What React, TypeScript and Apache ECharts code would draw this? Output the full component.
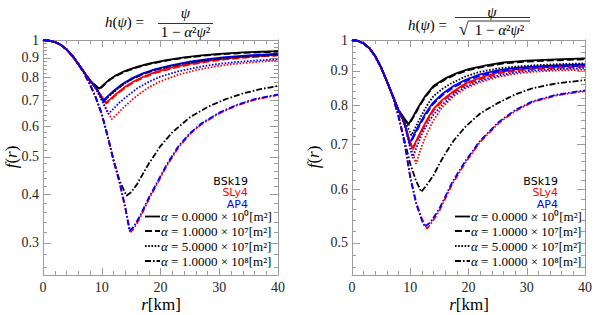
import React, { useEffect, useRef } from 'react';
import * as echarts from 'echarts';

type Pt = [number, number];

// ---------- axis / label data ----------
const xTicks = [0, 10, 20, 30, 40];
const leftYTicks = [0.3, 0.4, 0.5, 0.6, 0.7, 0.8, 0.9, 1];
const rightYTicks = [0.5, 0.6, 0.7, 0.8, 0.9, 1];
const leftYMin = 0.248;
const rightYMin = 0.448;
const eosNames = ['BSk19', 'SLy4', 'AP4'];
const eosColors = ['#000000', '#ff0000', '#0000ff'];
const alphaLabels = [
  'α = 0.0000 × 10⁰[m²]',
  'α = 1.0000 × 10⁷[m²]',
  'α = 5.0000 × 10⁷[m²]',
  'α = 1.0000 × 10⁸[m²]',
];

// ---------- shared interior (r in km, f) ----------
const innerCore: Pt[] = [[0, 1], [1, 0.997], [2, 0.988], [3, 0.972], [4, 0.946], [5, 0.91], [6, 0.868], [7, 0.826], [8, 0.786]];
const innerCoreShort: Pt[] = [[0, 1], [1, 0.997], [2, 0.988], [3, 0.972], [4, 0.946], [5, 0.91], [6, 0.868]];

// ---------- left panel: h = psi / (1 - a^2 psi^2) ----------
const L_BSk19_a0: Pt[] = [[9, 0.762], [9.6, 0.749], [10.5, 0.772], [11.5, 0.795], [12.5, 0.812], [14, 0.833], [16, 0.853], [18, 0.869], [21, 0.888], [24, 0.902], [27, 0.913], [30, 0.921], [34, 0.929], [40, 0.936]];
const L_BSk19_a1: Pt[] = [[9, 0.761], [9.65, 0.746], [10.5, 0.769], [11.5, 0.792], [12.5, 0.809], [14, 0.83], [16, 0.85], [18, 0.866], [21, 0.885], [24, 0.899], [27, 0.91], [30, 0.918], [34, 0.926], [40, 0.933]];
const L_BSk19_a5: Pt[] = [[9, 0.755], [10.3, 0.693], [11, 0.711], [12, 0.734], [13.5, 0.766], [15, 0.791], [17, 0.817], [19, 0.837], [22, 0.859], [25, 0.875], [28, 0.888], [31, 0.898], [35, 0.907], [40, 0.914]];
const L_BSk19_a10: Pt[] = [[7, 0.82], [8, 0.768], [9, 0.71], [10, 0.645], [11, 0.565], [12, 0.49], [13, 0.436], [14.2, 0.397], [15, 0.405], [16, 0.425], [17, 0.452], [18, 0.48], [20, 0.533], [22, 0.578], [25, 0.632], [28, 0.672], [31, 0.703], [34, 0.728], [37, 0.747], [40, 0.761]];

const L_SLy4_a0: Pt[] = [[9, 0.752], [10, 0.715], [10.7, 0.689], [11.5, 0.705], [12.5, 0.727], [14, 0.758], [15.5, 0.783], [17, 0.803], [19, 0.825], [22, 0.85], [25, 0.868], [28, 0.883], [31, 0.895], [35, 0.906], [40, 0.917]];
const L_SLy4_a1: Pt[] = [[9, 0.751], [10, 0.713], [10.75, 0.686], [11.5, 0.701], [12.5, 0.723], [14, 0.754], [15.5, 0.779], [17, 0.799], [19, 0.821], [22, 0.846], [25, 0.864], [28, 0.879], [31, 0.891], [35, 0.902], [40, 0.913]];
const L_SLy4_a5: Pt[] = [[9, 0.748], [10, 0.7], [11, 0.655], [11.7, 0.625], [12.5, 0.642], [13.5, 0.665], [15, 0.698], [16.5, 0.728], [18, 0.755], [20, 0.783], [23, 0.813], [26, 0.836], [29, 0.853], [32, 0.866], [36, 0.877], [40, 0.886]];
const L_SLy4_a10: Pt[] = [[7, 0.82], [8, 0.768], [9, 0.71], [10, 0.645], [11, 0.565], [12, 0.49], [13, 0.43], [14, 0.368], [14.9, 0.32], [15.5, 0.327], [16.5, 0.348], [18, 0.388], [19.5, 0.428], [21, 0.472], [23, 0.527], [25, 0.572], [27, 0.607], [30, 0.647], [33, 0.678], [36, 0.701], [40, 0.722]];

const L_AP4_a0: Pt[] = [[9, 0.755], [9.6, 0.727], [10.2, 0.698], [11, 0.716], [12, 0.739], [13.5, 0.77], [15, 0.795], [17, 0.82], [19, 0.84], [22, 0.862], [25, 0.879], [28, 0.892], [31, 0.903], [35, 0.913], [40, 0.922]];
const L_AP4_a1: Pt[] = [[9, 0.754], [9.6, 0.725], [10.25, 0.695], [11, 0.712], [12, 0.735], [13.5, 0.766], [15, 0.791], [17, 0.816], [19, 0.836], [22, 0.858], [25, 0.875], [28, 0.888], [31, 0.899], [35, 0.909], [40, 0.918]];
const L_AP4_a5: Pt[] = [[9, 0.75], [10, 0.7], [11.1, 0.645], [12, 0.665], [13, 0.69], [14.5, 0.72], [16, 0.75], [18, 0.78], [20, 0.805], [23, 0.83], [26, 0.849], [29, 0.864], [32, 0.875], [36, 0.885], [40, 0.892]];
const L_AP4_a10: Pt[] = [[7, 0.82], [8, 0.768], [9, 0.71], [10, 0.645], [11, 0.566], [12, 0.491], [13, 0.432], [14, 0.372], [14.7, 0.322], [15.5, 0.331], [16.5, 0.352], [18, 0.392], [19.5, 0.432], [21, 0.476], [23, 0.531], [25, 0.575], [27, 0.61], [30, 0.65], [33, 0.681], [36, 0.704], [40, 0.724]];

// ---------- right panel: h = psi / sqrt(1 - a^2 psi^2) ----------
const R_BSk19_a0: Pt[] = [[9, 0.765], [9.7, 0.75], [10.5, 0.77], [11.5, 0.798], [12.5, 0.824], [14, 0.855], [16, 0.877], [18, 0.893], [20, 0.905], [23, 0.917], [26, 0.926], [30, 0.932], [35, 0.936], [40, 0.939]];
const R_BSk19_a1: Pt[] = [[9, 0.764], [9.75, 0.748], [10.5, 0.767], [11.5, 0.795], [12.5, 0.821], [14, 0.852], [16, 0.874], [18, 0.89], [20, 0.902], [23, 0.914], [26, 0.923], [30, 0.929], [35, 0.933], [40, 0.936]];
const R_BSk19_a5: Pt[] = [[9, 0.76], [10.2, 0.722], [11, 0.745], [12, 0.775], [13, 0.803], [14, 0.826], [15.5, 0.846], [17, 0.862], [19.5, 0.883], [22, 0.897], [25, 0.907], [28, 0.913], [32, 0.918], [36, 0.921], [40, 0.923]];
const R_BSk19_a10: Pt[] = [[7, 0.825], [8, 0.77], [9, 0.71], [10, 0.655], [11, 0.618], [11.9, 0.595], [13, 0.612], [14, 0.63], [15, 0.655], [16, 0.678], [17.5, 0.71], [19.5, 0.744], [22, 0.778], [25, 0.806], [28, 0.83], [31, 0.848], [35, 0.862], [40, 0.872]];

const R_SLy4_a0: Pt[] = [[9, 0.752], [10, 0.705], [10.4, 0.691], [11, 0.708], [12, 0.737], [13, 0.765], [14, 0.79], [15.5, 0.815], [17.5, 0.84], [19.5, 0.862], [22, 0.879], [25.2, 0.896], [28, 0.904], [31, 0.909], [35, 0.913], [40, 0.916]];
const R_SLy4_a1: Pt[] = [[9, 0.751], [10, 0.703], [10.45, 0.688], [11, 0.704], [12, 0.733], [13, 0.761], [14, 0.786], [15.5, 0.811], [17.5, 0.836], [19.5, 0.858], [22, 0.875], [25.2, 0.892], [28, 0.9], [31, 0.905], [35, 0.909], [40, 0.912]];
const R_SLy4_a5: Pt[] = [[9, 0.748], [10, 0.7], [11, 0.655], [11.7, 0.685], [12.5, 0.715], [13.8, 0.755], [15.5, 0.795], [17.5, 0.826], [19.5, 0.848], [22, 0.866], [25.2, 0.882], [28, 0.891], [31, 0.897], [35, 0.901], [40, 0.903]];
const R_SLy4_a10: Pt[] = [[7, 0.825], [8, 0.77], [9, 0.705], [10, 0.628], [11, 0.575], [12, 0.543], [12.9, 0.525], [13.5, 0.533], [15, 0.558], [17.2, 0.611], [19.5, 0.658], [22, 0.706], [25.2, 0.753], [28, 0.784], [31, 0.809], [35, 0.827], [40, 0.84]];

const R_AP4_a0: Pt[] = [[9, 0.755], [9.9, 0.702], [10.5, 0.72], [11.5, 0.748], [12.5, 0.775], [13.8, 0.805], [15.5, 0.832], [17.5, 0.855], [19.5, 0.873], [22, 0.889], [25.2, 0.902], [28, 0.909], [31, 0.913], [35, 0.917], [40, 0.92]];
const R_AP4_a1: Pt[] = [[9, 0.754], [9.95, 0.699], [10.5, 0.716], [11.5, 0.744], [12.5, 0.771], [13.8, 0.801], [15.5, 0.828], [17.5, 0.851], [19.5, 0.869], [22, 0.885], [25.2, 0.898], [28, 0.905], [31, 0.909], [35, 0.913], [40, 0.916]];
const R_AP4_a5: Pt[] = [[9, 0.75], [10, 0.69], [10.4, 0.668], [11, 0.69], [12, 0.725], [13, 0.752], [14, 0.775], [15.5, 0.802], [17.5, 0.831], [19.5, 0.852], [22, 0.87], [25.2, 0.886], [28, 0.895], [31, 0.901], [35, 0.905], [40, 0.908]];
const R_AP4_a10: Pt[] = [[7, 0.825], [8, 0.77], [9, 0.705], [10, 0.625], [11, 0.572], [12, 0.54], [12.5, 0.528], [13.5, 0.537], [15, 0.562], [17.2, 0.615], [19.5, 0.662], [22, 0.709], [25.2, 0.756], [28, 0.787], [31, 0.811], [35, 0.829], [40, 0.842]];

// [alpha][eos]
const leftCurves: Pt[][][] = [
  [L_BSk19_a0, L_SLy4_a0, L_AP4_a0],
  [L_BSk19_a1, L_SLy4_a1, L_AP4_a1],
  [L_BSk19_a5, L_SLy4_a5, L_AP4_a5],
  [L_BSk19_a10, L_SLy4_a10, L_AP4_a10],
];
const rightCurves: Pt[][][] = [
  [R_BSk19_a0, R_SLy4_a0, R_AP4_a0],
  [R_BSk19_a1, R_SLy4_a1, R_AP4_a1],
  [R_BSk19_a5, R_SLy4_a5, R_AP4_a5],
  [R_BSk19_a10, R_SLy4_a10, R_AP4_a10],
];

const lineTypes: any[] = ['solid', [7, 3], [1.6, 1.6], [6, 2, 1.6, 2]];

const SERIF = 'Liberation Serif';
const SANS = 'DejaVu Sans';
const AXIS_GRAY = '#9c9c9c';
const LABEL_COLOR = '#262626';

const log10 = (v: number) => Math.log10(v);

function minorValues(ymin: number): number[] {
  const out: number[] = [];
  for (let k = Math.ceil(ymin / 0.02 - 1e-9); k <= 50; k++) {
    const v = k * 0.02;
    if (Math.abs(v * 10 - Math.round(v * 10)) > 1e-6) out.push(log10(v));
  }
  return out;
}

function buildAxes(gridIndex: number, ymin: number, majors: number[]) {
  const majLog = majors.map(log10);
  const minLog = minorValues(ymin);
  const axisLine = { show: true, onZero: false, lineStyle: { color: AXIS_GRAY, width: 1 } };
  const tickStyle = { color: AXIS_GRAY, width: 1 };
  const xBase: any = {
    type: 'value', gridIndex, min: xTicks[0], max: xTicks[xTicks.length - 1], interval: 10,
    splitLine: { show: false }, axisLine,
    axisTick: { show: true, inside: true, length: 7, lineStyle: tickStyle },
    minorTick: { show: true, splitNumber: 5, length: 4, lineStyle: tickStyle },
  };
  const xAxes = [
    { ...xBase, position: 'bottom', axisLabel: { show: true, fontFamily: SERIF, fontSize: 14, color: LABEL_COLOR, margin: 5, showMinLabel: true, showMaxLabel: true } },
    { ...xBase, position: 'top', axisLabel: { show: false } },
  ];
  const yBase: any = {
    type: 'value', gridIndex, min: log10(ymin), max: 0,
    splitLine: { show: false }, axisLine,
  };
  const fmt = (v: number) => {
    const f = Math.pow(10, v);
    return f > 0.995 ? '1' : f.toFixed(1);
  };
  const yAxes = [
    { ...yBase, position: 'left', axisTick: { show: true, inside: true, length: 8, customValues: majLog, lineStyle: tickStyle },
      axisLabel: { show: true, customValues: majLog, formatter: fmt, fontFamily: SERIF, fontSize: 14, color: LABEL_COLOR, margin: 4 } },
    { ...yBase, position: 'left', axisTick: { show: true, inside: true, length: 4, customValues: minLog, lineStyle: tickStyle }, axisLabel: { show: false } },
    { ...yBase, position: 'right', axisTick: { show: true, inside: true, length: 8, customValues: majLog, lineStyle: tickStyle }, axisLabel: { show: false } },
    { ...yBase, position: 'right', axisTick: { show: true, inside: true, length: 4, customValues: minLog, lineStyle: tickStyle }, axisLabel: { show: false } },
  ];
  return { xAxes, yAxes };
}

function buildSeries(curves: Pt[][][], xAxisIndex: number, yAxisIndex: number) {
  const out: any[] = [];
  curves.forEach((row, ai) => {
    row.forEach((tail, ei) => {
      const head = ai === 3 ? innerCoreShort : innerCore;
      const pts = head.concat(tail);
      out.push({
        type: 'line',
        name: eosNames[ei] + ' ' + alphaLabels[ai],
        xAxisIndex, yAxisIndex,
        data: pts.map(([r, f]) => [r, log10(f)]),
        showSymbol: false, symbol: 'none', smooth: false, silent: true,
        lineStyle: { color: eosColors[ei], width: 1.8, type: lineTypes[ai] },
        z: 2 + ai,
      });
    });
  });
  return out;
}

function titleElements(variant: 'frac' | 'sqrt') {
  const els: any[] = [];
  const rich = { i: { fontStyle: 'italic', fontFamily: SERIF, fontSize: 15, fill: '#000' }, u: { fontFamily: SERIF, fontSize: 15, fill: '#000' } };
  const baseStyle = { fontFamily: SERIF, fontSize: 15, fill: '#000', rich };
  if (variant === 'frac') {
    els.push({ type: 'text', x: 105, y: 22, style: { ...baseStyle, text: '{i|h}{u|(}{i|ψ}{u|) =}', align: 'left', verticalAlign: 'middle' } });
    els.push({ type: 'text', x: 185.5, y: 13, style: { ...baseStyle, text: '{i|ψ}', align: 'center', verticalAlign: 'middle' } });
    els.push({ type: 'line', shape: { x1: 158, y1: 23.5, x2: 213, y2: 23.5 }, style: { stroke: '#000', lineWidth: 0.8 } });
    els.push({ type: 'text', x: 185.5, y: 31.5, style: { ...baseStyle, text: '{u|1 − }{i|α}{u|²}{i|ψ}{u|²}', align: 'center', verticalAlign: 'middle' } });
  } else {
    els.push({ type: 'text', x: 408, y: 24.5, style: { ...baseStyle, text: '{i|h}{u|(}{i|ψ}{u|) =}', align: 'left', verticalAlign: 'middle' } });
    els.push({ type: 'text', x: 492, y: 11.5, style: { ...baseStyle, text: '{i|ψ}', align: 'center', verticalAlign: 'middle' } });
    els.push({ type: 'line', shape: { x1: 455, y1: 17.5, x2: 530, y2: 17.5 }, style: { stroke: '#000', lineWidth: 0.8 } });
    els.push({ type: 'text', x: 459, y: 29, style: { text: '√', fontFamily: SERIF, fontSize: 17, fill: '#000', align: 'left', verticalAlign: 'middle' } });
    els.push({ type: 'line', shape: { x1: 468, y1: 21, x2: 530, y2: 21 }, style: { stroke: '#000', lineWidth: 0.8 } });
    els.push({ type: 'text', x: 499.5, y: 30, style: { ...baseStyle, text: '{u|1 − }{i|α}{u|²}{i|ψ}{u|²}', align: 'center', verticalAlign: 'middle' } });
  }
  return els;
}

function axisNameElements(yNameX: number, xNameX: number) {
  const rich = { i: { fontStyle: 'italic', fontFamily: SERIF, fontSize: 17, fill: '#000' }, u: { fontFamily: SERIF, fontSize: 17, fill: '#000' } };
  return [
    { type: 'text', x: yNameX, y: 157, rotation: Math.PI / 2,
      style: { text: '{i|f}{u|(}{i|r}{u|)}', fontFamily: SERIF, fontSize: 17, fill: '#000', rich, align: 'center', verticalAlign: 'middle' } },
    { type: 'text', x: xNameX, y: 304,
      style: { text: '{i|r}{u|[km]}', fontFamily: SERIF, fontSize: 17, fill: '#000', rich, align: 'center', verticalAlign: 'middle' } },
  ];
}

function legendElements(eosRight: number, lineX: number) {
  const els: any[] = [];
  const eosY = [181, 192.5, 204];
  eosNames.forEach((n, i) => {
    els.push({ type: 'text', x: eosRight, y: eosY[i], style: { text: n, fontFamily: SANS, fontSize: 11, fill: eosColors[i], align: 'right', verticalAlign: 'middle' } });
  });
  const rowY = [216.5, 231, 246, 261];
  alphaLabels.forEach((t, i) => {
    els.push({ type: 'line', shape: { x1: lineX, y1: rowY[i], x2: lineX + 15, y2: rowY[i] },
      style: { stroke: '#000', lineWidth: 1.8, lineDash: lineTypes[i] === 'solid' ? null : lineTypes[i] } });
    const body = t.slice(1);
    els.push({ type: 'text', x: lineX + 16, y: rowY[i], style: {
      text: '{i|α}{u|' + body + '}', fontFamily: SERIF, fontSize: 13, fill: '#000', align: 'left', verticalAlign: 'middle',
      rich: { i: { fontStyle: 'italic', fontFamily: SERIF, fontSize: 13, fill: '#000' }, u: { fontFamily: SERIF, fontSize: 13, fill: '#000' } } } });
  });
  return els;
}

export default function App() {
  const ref = useRef<HTMLDivElement>(null);
  useEffect(() => {
    if (!ref.current) return;
    const chart = echarts.init(ref.current, undefined, { renderer: 'svg' });
    const L = buildAxes(0, leftYMin, leftYTicks);
    const R = buildAxes(1, rightYMin, rightYTicks);
    const option: any = {
      animation: false,
      backgroundColor: '#ffffff',
      textStyle: { fontFamily: SERIF },
      grid: [
        { left: 43, top: 40, width: 235, height: 235, containLabel: false },
        { left: 352, top: 40, width: 235, height: 235, containLabel: false },
      ],
      xAxis: [...L.xAxes, ...R.xAxes],
      yAxis: [...L.yAxes, ...R.yAxes],
      series: [...buildSeries(leftCurves, 0, 0), ...buildSeries(rightCurves, 2, 4)],
      graphic: {
        elements: [
          ...titleElements('frac'),
          ...titleElements('sqrt'),
          ...axisNameElements(11, 161),
          ...axisNameElements(313, 469),
          ...legendElements(248, 145),
          ...legendElements(558, 455),
        ],
      },
    };
    chart.setOption(option);
    return () => chart.dispose();
  }, []);
  return <div ref={ref} style={{ position: 'fixed', left: 0, top: 0, width: 595, height: 315, background: '#fff' }} />;
}
